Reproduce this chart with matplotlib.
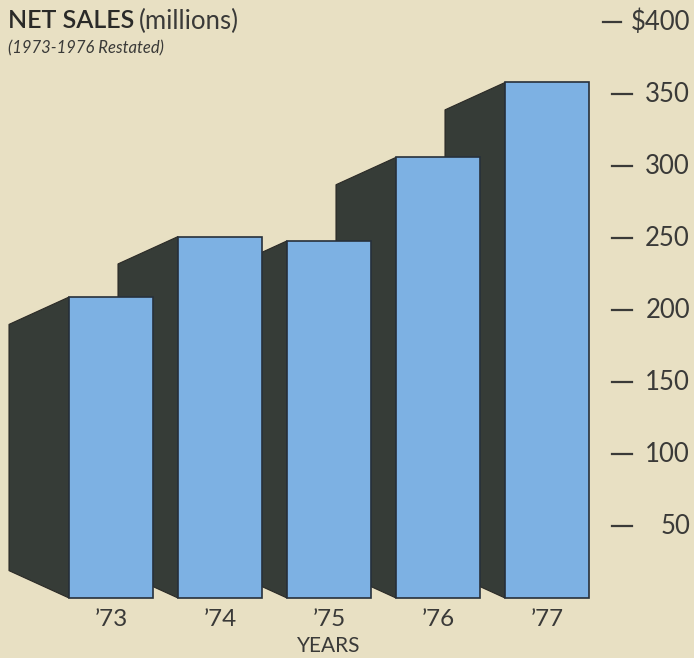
import matplotlib
matplotlib.use('Agg')
import matplotlib.pyplot as plt
from matplotlib.patches import Polygon, Rectangle

# data
years = ["\u201973", "\u201974", "\u201975", "\u201976", "\u201977"]
net_sales = [209, 251, 248, 306, 358]
tick_values = [50, 100, 150, 200, 250, 300, 350, 400]
tick_labels = ["50", "100", "150", "200", "250", "300", "350", "$400"]

BG = '#e8e0c3'
BLUE = '#7db1e3'
DARK = '#363c37'
EDGE = '#27303a'
TEXT = '#3a3a38'
FONT = ['Lato', 'DejaVu Sans']

W, H = 694, 658
fig = plt.figure(figsize=(W / 100, H / 100), dpi=100, facecolor=BG)
ax = fig.add_axes([0, 0, 1, 1])
ax.set_facecolor(BG)
ax.axis('off')

# x axis in pixels, y axis in millions (1.44 px per million, zero at 598 px)
scale = 1.44
base = 598
ax.set_xlim(0, W)
ax.set_ylim((base - H) / scale, base / scale)

first_left = 69
spacing = 109
bar_w = 84
depth_x = 60
depth_y = 19

lefts = [first_left + i * spacing for i in range(len(years))]

# side faces first, fronts on top
for x0, v in zip(lefts, net_sales):
    side = Polygon([(x0, 0), (x0, v), (x0 - depth_x, v - depth_y),
                    (x0 - depth_x, depth_y)], closed=True,
                   facecolor=DARK, edgecolor='#2b2a26', lw=0.8, zorder=2)
    ax.add_patch(side)

for x0, v, yr in zip(lefts, net_sales, years):
    ax.add_patch(Rectangle((x0, 0), bar_w, v, facecolor=BLUE,
                           edgecolor=EDGE, lw=1.2, zorder=3))
    ax.text(x0 + bar_w / 2, -15, yr, ha='center', va='center',
            fontsize=17.5, color=TEXT, family=FONT)

ax.text(lefts[2] + bar_w / 2, -33, 'YEARS', ha='center', va='center',
        fontsize=15, color=TEXT, family=FONT)

# right-hand scale
for v, lab in zip(tick_values, tick_labels):
    if lab.startswith('$'):
        ax.plot([603, 621], [v, v], color=TEXT, lw=1.6)
    else:
        ax.plot([612, 632], [v, v], color=TEXT, lw=1.6)
    ax.text(690, v, lab, ha='right', va='center', fontsize=18.5,
            color=TEXT, family=FONT)

# title
fig.text(8 / W, 1 - 21 / H, 'NET SALES', ha='left', va='center',
         fontsize=18, fontweight='semibold', color='#2a2a28', family=FONT)
fig.text(139 / W, 1 - 21 / H, '(millions)', ha='left', va='center',
         fontsize=18.5, color=TEXT, family=FONT)
fig.text(8 / W, 1 - 48 / H, '(1973-1976 Restated)', ha='left', va='center',
         fontsize=12, style='italic', color=TEXT, family=FONT)

fig.savefig('out.png', dpi=100, facecolor=BG)
